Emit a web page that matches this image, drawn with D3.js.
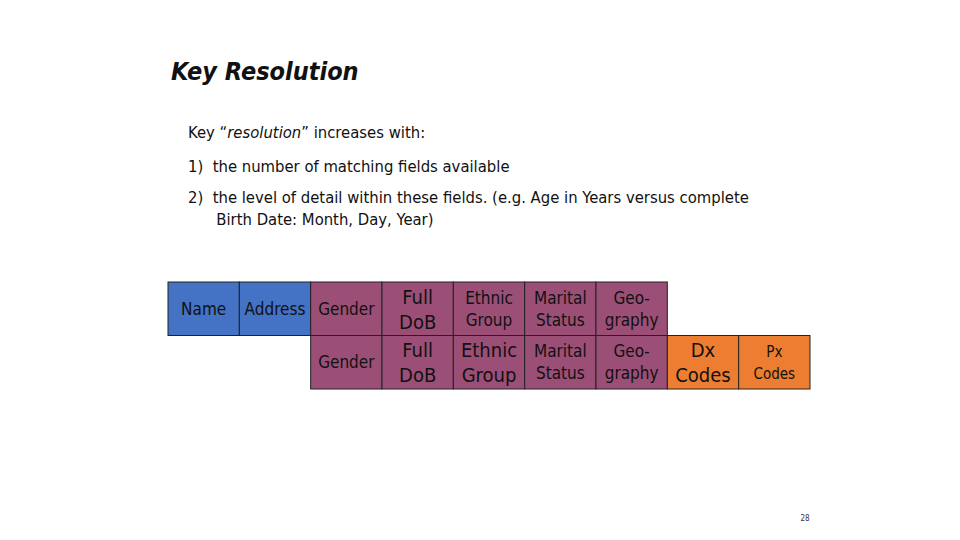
<!DOCTYPE html>
<html><head><meta charset="utf-8">
<script src="https://cdn.jsdelivr.net/npm/d3@7"></script>
<style>body{margin:0;background:#fff}</style>
</head><body>
<svg id="s" width="960" height="540"></svg>
<script>
const columns = ['Name','Address','Gender','DoB','Ethnic','Marital','Geo','Dx','Px'];
const row1 = [['Name'],['Address'],['Gender'],['Full','DoB'],['Ethnic','Group'],['Marital','Status'],['Geo-','graphy']];
const row2 = [null,null,['Gender'],['Full','DoB'],['Ethnic','Group'],['Marital','Status'],['Geo-','graphy'],['Dx','Codes'],['Px','Codes']];
const row1Colors = ['blue','blue','purple','purple','purple','purple','purple'];
const row2Colors = [null,null,'purple','purple','purple','purple','purple','orange','orange'];
const palette = {blue:'#4472C4', purple:'#9B4F76', orange:'#ED7D31'};
const textLines = [
  'Key \u201c<i>resolution</i>\u201d increases with:',
  '1)  the number of matching fields available',
  '2)  the level of detail within these fields. (e.g. Age in Years versus complete',
  '      Birth Date: Month, Day, Year)'
];

const svg = d3.select('#s');
const font = 'DejaVu Sans Condensed, DejaVu Sans, sans-serif';

svg.append('text').attr('x',171).attr('y',80).attr('font-family',font)
  .attr('font-size',25).attr('font-weight','bold').attr('font-style','italic')
  .attr('fill','#111').text('Key Resolution');

const ys = [138,172,203,225];
textLines.forEach((t,i) => {
  svg.append('text').attr('x',188).attr('y',ys[i]).attr('font-family',font)
    .attr('font-size',16.5).attr('fill','#111').attr('xml:space','preserve')
    .html(t.replace('<i>','<tspan font-style="italic">').replace('</i>','</tspan>'));
});

const x = d3.scaleBand().domain(columns).range([168,810]);
const y = d3.scaleBand().domain(['r1','r2']).range([282,389]);

function drawRow(cells, colors, key) {
  cells.forEach((c,i) => {
    if (!c) return;
    const g = svg.append('g');
    const x0 = x(columns[i]), w = x.bandwidth(), y0 = y(key), h = y.bandwidth();
    g.append('rect').attr('x',x0).attr('y',y0).attr('width',w).attr('height',h)
      .attr('fill',palette[colors[i]]).attr('stroke','#222').attr('stroke-width',1);
    const big = c.length === 2 && (c[0] === 'Full' || (key === 'r2' && (c[0] === 'Ethnic' || c[0] === 'Dx')));
    const fs = c[0] === 'Px' ? 15 : big ? 20 : 17;
    const t = g.append('text').attr('font-family',font).attr('font-size',fs)
      .attr('fill','#111').attr('text-anchor','middle');
    if (c.length === 1) {
      t.append('tspan').attr('x',x0+w/2).attr('y',y0+h/2+6).text(c[0]);
    } else {
      t.append('tspan').attr('x',x0+w/2).attr('y',y0+h/2-5).text(c[0]);
      t.append('tspan').attr('x',x0+w/2).attr('y',y0+h/2+ (big?20:17)).text(c[1]);
    }
  });
}
drawRow(row1, row1Colors, 'r1');
drawRow(row2, row2Colors, 'r2');

svg.append('text').attr('x',805).attr('y',521).attr('font-family',font)
  .attr('font-size',8).attr('text-anchor','middle').attr('fill','#333').text('28');
</script>
</body></html>
